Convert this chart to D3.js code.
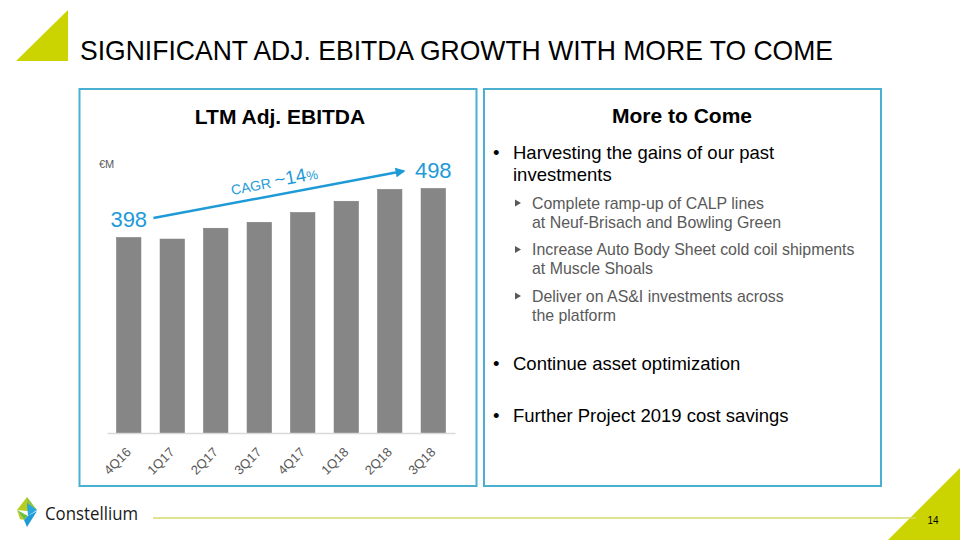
<!DOCTYPE html>
<html>
<head>
<meta charset="utf-8">
<script src="https://cdn.jsdelivr.net/npm/d3@7"></script>
<style>
  html, body { margin: 0; padding: 0; background: #fff; }
  svg { display: block; font-family: "Liberation Sans", Arial, sans-serif; }
</style>
</head>
<body>
<svg id="chart" width="960" height="540"></svg>
<script>
// ---- data ----
const categories = ["4Q16", "1Q17", "2Q17", "3Q17", "4Q17", "1Q18", "2Q18", "3Q18"];
const ebitdaValues = [398, 395, 417, 429, 449, 472, 496, 498];
const firstLabel = "398";
const lastLabel = "498";
const unitLabel = "€M";
const cagrParts = ["CAGR ", "~14", "%"];
const pageTitle = "SIGNIFICANT ADJ. EBITDA GROWTH WITH MORE TO COME";
const leftTitle = "LTM Adj. EBITDA";
const rightTitle = "More to Come";
const mainBullets = [
  ["Harvesting the gains of our past", "investments"],
  ["Continue asset optimization"],
  ["Further Project 2019 cost savings"]
];
const subBullets = [
  ["Complete ramp-up of CALP lines", "at Neuf-Brisach and Bowling Green"],
  ["Increase Auto Body Sheet cold coil shipments", "at Muscle Shoals"],
  ["Deliver on AS&I investments across", "the platform"]
];
const pageNumber = "14";
const brand = "Constellium";

// ---- styles ----
const lime = "#CBD300";
const blue = "#1E9BD7";
const frame = "#4BAFD0";
const barFill = "#868686";

const svg = d3.select("#chart");

// corner triangles
svg.append("polygon").attr("points", "16,61 68,10 68,61").attr("fill", lime);
svg.append("polygon").attr("points", "888,540 960,468 960,540").attr("fill", lime);

// page title
svg.append("text").attr("x", 80).attr("y", 60)
  .attr("font-size", 28).attr("fill", "#000")
  .attr("textLength", 753).attr("lengthAdjust", "spacingAndGlyphs")
  .text(pageTitle);

// panels
svg.append("rect").attr("x", 79.5).attr("y", 89).attr("width", 397).attr("height", 397)
  .attr("fill", "none").attr("stroke", frame).attr("stroke-width", 2);
svg.append("rect").attr("x", 484).attr("y", 89).attr("width", 397).attr("height", 397)
  .attr("fill", "none").attr("stroke", frame).attr("stroke-width", 2);

// ---- left chart ----
svg.append("text").attr("x", 280).attr("y", 124).attr("text-anchor", "middle")
  .attr("font-size", 21).attr("font-weight", "bold").text(leftTitle);

const x = d3.scaleBand().domain(categories).range([107, 455])
  .paddingInner(0.44).paddingOuter(0.22);
const y = d3.scaleLinear().domain([0, 498]).range([433, 188.5]);

svg.append("g").selectAll("rect").data(ebitdaValues).join("rect")
  .attr("x", (d, i) => x(categories[i]))
  .attr("y", d => y(d))
  .attr("width", x.bandwidth())
  .attr("height", d => y(0) - y(d))
  .attr("fill", barFill).attr("stroke", "#7a7a7a").attr("stroke-width", 0.6);

// baseline axis
const xAxis = d3.axisBottom(x).tickSize(0).tickPadding(0);
const ax = svg.append("g").attr("transform", `translate(0,${y(0)})`).call(xAxis);
ax.select(".domain").attr("stroke", "#D9D9D9").attr("stroke-width", 1.5);
ax.selectAll(".tick text")
  .attr("font-family", "Liberation Sans, Arial, sans-serif")
  .attr("font-size", 13).attr("fill", "#595959")
  .attr("text-anchor", "end")
  .attr("dy", null)
  .attr("transform", "translate(3,20) rotate(-45)");

// unit label
svg.append("text").attr("x", 99).attr("y", 168).attr("font-size", 11)
  .attr("fill", "#595959").text(unitLabel);

// value labels
const x0 = x(categories[0]), xN = x(categories[categories.length - 1]);
svg.append("text").attr("x", x0 + x.bandwidth() / 2).attr("y", y(ebitdaValues[0]) - 10.5)
  .attr("text-anchor", "middle").attr("font-size", 22).attr("fill", blue).text(firstLabel);
svg.append("text").attr("x", xN + x.bandwidth() / 2).attr("y", y(ebitdaValues[ebitdaValues.length - 1]) - 10.5)
  .attr("text-anchor", "middle").attr("font-size", 22).attr("fill", blue).text(lastLabel);

// CAGR arrow
const defs = svg.append("defs");
defs.append("marker").attr("id", "arrow").attr("viewBox", "0 0 10 10")
  .attr("refX", 8).attr("refY", 5).attr("markerWidth", 4).attr("markerHeight", 4)
  .attr("orient", "auto")
  .append("path").attr("d", "M0,0 L10,5 L0,10 Z").attr("fill", blue);

const ax1 = x0 + x.bandwidth() + 12.5, ay1 = y(ebitdaValues[0]) - 19.5;
const ax2 = xN - 17.5, ay2 = y(ebitdaValues[ebitdaValues.length - 1]) - 17.5;
svg.append("line").attr("x1", ax1).attr("y1", ay1).attr("x2", ax2).attr("y2", ay2)
  .attr("stroke", blue).attr("stroke-width", 2.5).attr("marker-end", "url(#arrow)");

const ang = Math.atan2(ay2 - ay1, ax2 - ax1) * 180 / Math.PI;
const cagr = svg.append("text").attr("transform", `translate(232,195) rotate(${ang})`)
  .attr("fill", blue);
cagr.append("tspan").attr("font-size", 14).text(cagrParts[0]);
cagr.append("tspan").attr("font-size", 19).text(cagrParts[1]);
cagr.append("tspan").attr("font-size", 13).text(cagrParts[2]);

// ---- right panel ----
svg.append("text").attr("x", 682).attr("y", 122.5).attr("text-anchor", "middle")
  .attr("font-size", 21).attr("font-weight", "bold").text(rightTitle);

const mainY = [158.5, 369.5, 421.5];
mainBullets.forEach((lines, i) => {
  svg.append("text").attr("x", 493).attr("y", mainY[i]).attr("font-size", 18.5).text("•");
  lines.forEach((ln, j) => {
    svg.append("text").attr("x", 513).attr("y", mainY[i] + j * 22.5)
      .attr("font-size", 18.5).attr("fill", "#000").text(ln);
  });
});

const subY = [208.5, 255, 301.5];
subBullets.forEach((lines, i) => {
  svg.append("path")
    .attr("d", `M515,${subY[i] - 9} L521,${subY[i] - 5.5} L515,${subY[i] - 2} Z`)
    .attr("fill", "#595959");
  lines.forEach((ln, j) => {
    svg.append("text").attr("x", 532).attr("y", subY[i] + j * 19.3)
      .attr("font-size", 15.9).attr("fill", "#595959").text(ln);
  });
});

// ---- footer ----
svg.append("line").attr("x1", 153).attr("x2", 916).attr("y1", 518).attr("y2", 518)
  .attr("stroke", "#D6DB6A").attr("stroke-width", 1.5);
svg.append("text").attr("x", 933).attr("y", 523.5).attr("text-anchor", "middle")
  .attr("font-size", 10).attr("fill", "#000").text(pageNumber);

// logo icon
const logo = svg.append("g");
logo.append("polygon").attr("points", "27,497 17,510 27,511").attr("fill", "#B7CF1C");
logo.append("polygon").attr("points", "27,497 37,510 27,511").attr("fill", "#8CC63F");
logo.append("polygon").attr("points", "27,503 37,510 28,516").attr("fill", "#2AA7DF");
logo.append("polygon").attr("points", "17,510 28,516 24,520").attr("fill", "#6DBE45");
logo.append("polygon").attr("points", "17,510 24,520 20,519").attr("fill", "#B7CF1C");
logo.append("polygon").attr("points", "24,520 28,516 37,511 27,527").attr("fill", "#1E9BD7");
svg.append("text").attr("x", 45).attr("y", 519.5).attr("font-family", "Open Sans, sans-serif")
  .attr("font-size", 18).attr("fill", "#1a1a1a")
  .attr("textLength", 93).attr("lengthAdjust", "spacingAndGlyphs").text(brand);
</script>
</body>
</html>
